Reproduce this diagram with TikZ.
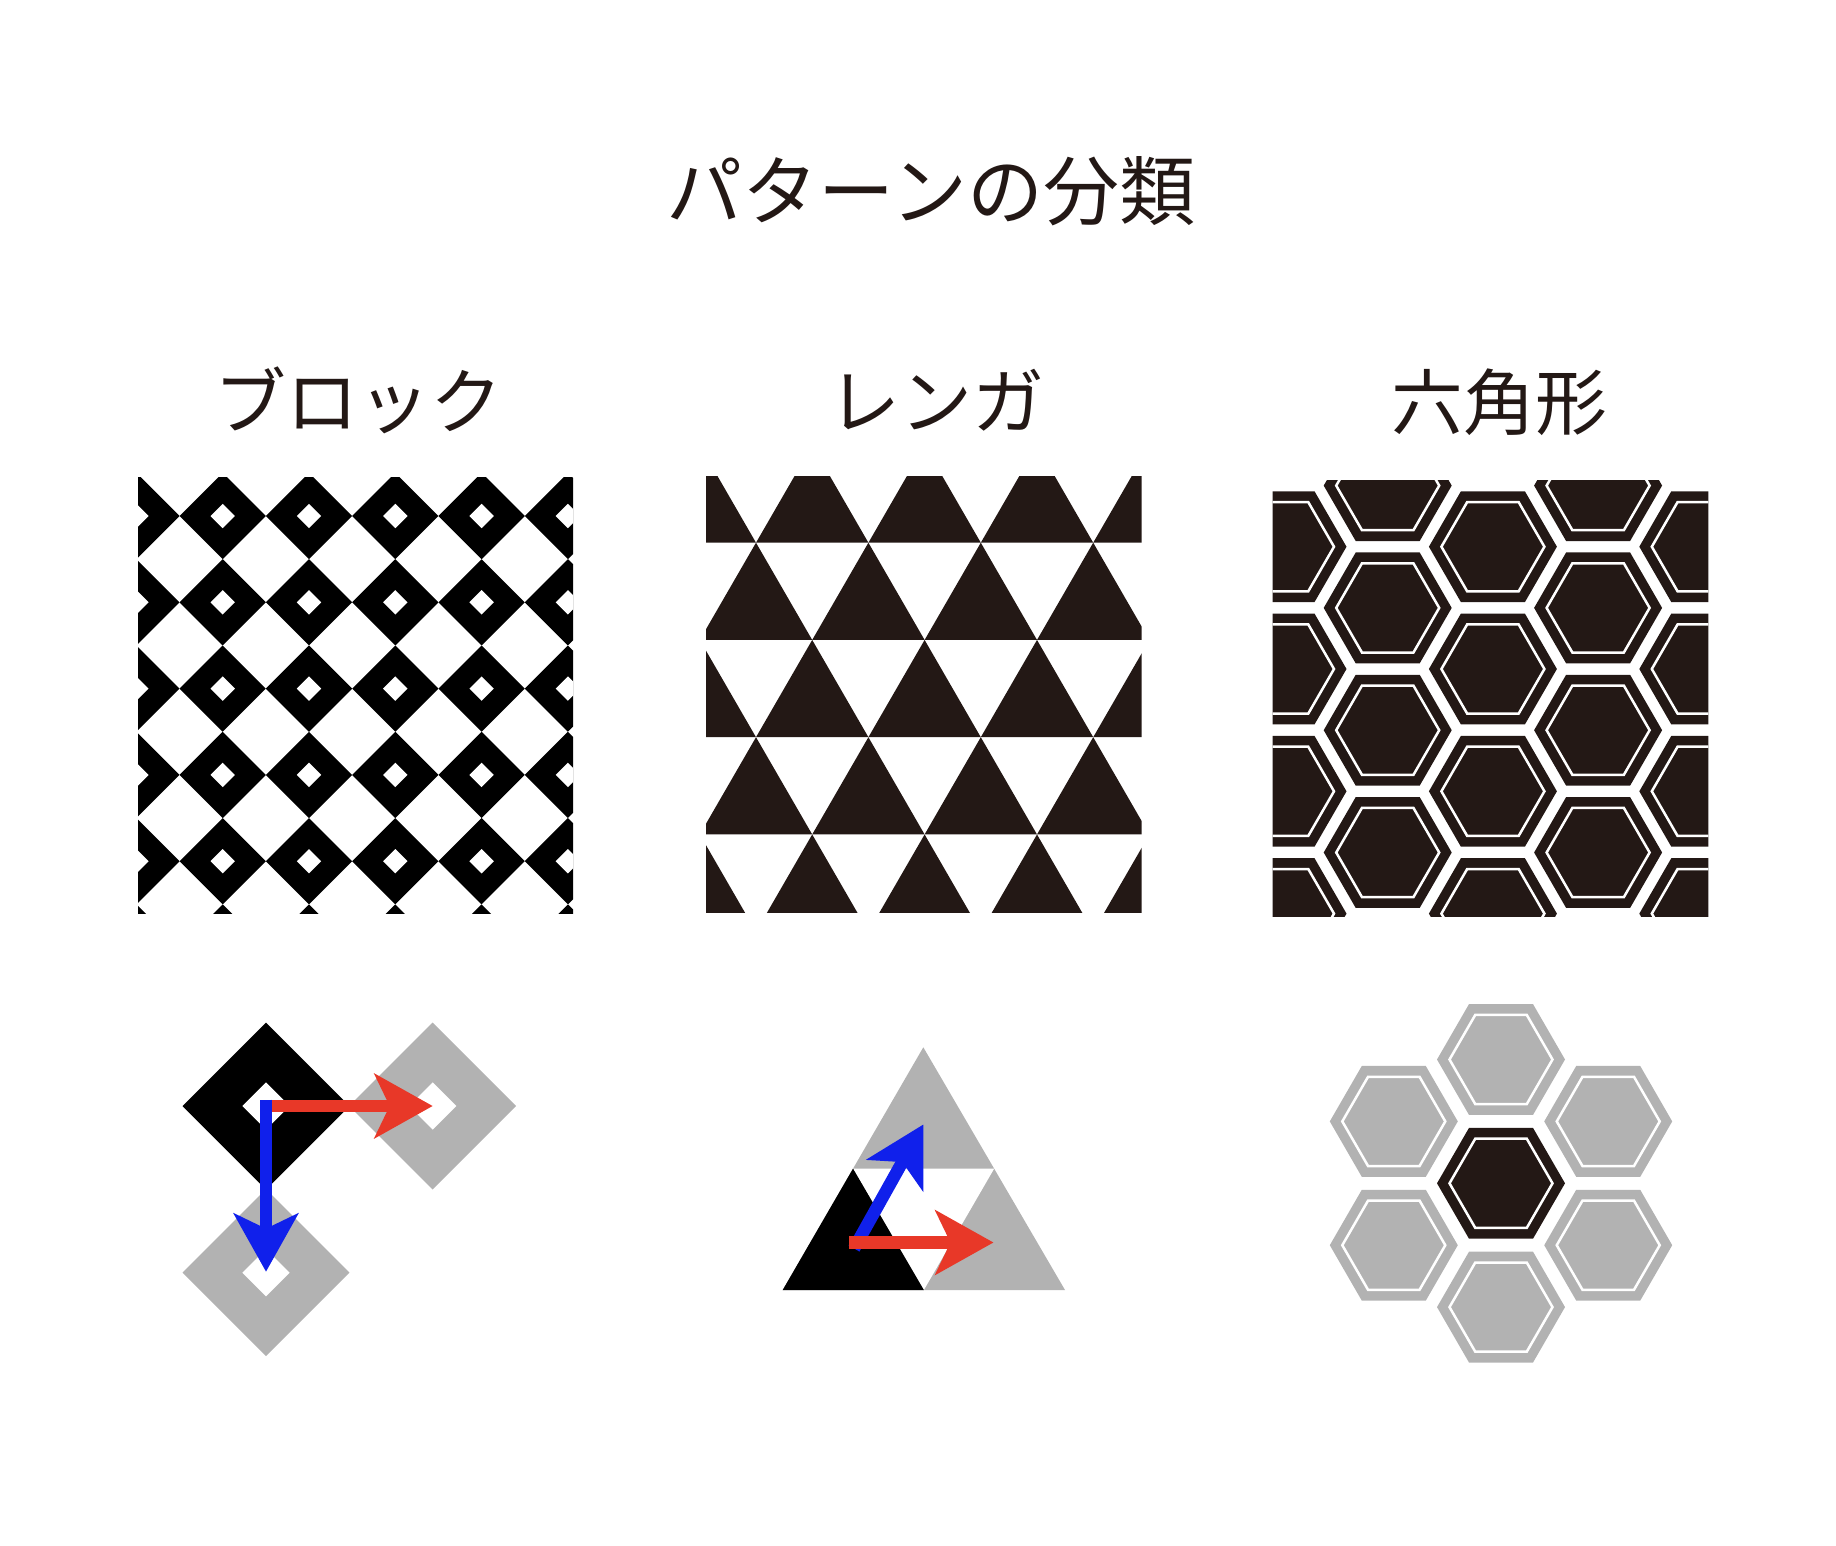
\documentclass[tikz,border=0pt]{standalone}
\usepackage{fontspec}
\newfontfamily\jpfont{Noto Sans CJK JP}
\usetikzlibrary{arrows.meta,calc}
\definecolor{inkblack}{RGB}{35,24,21}
\colorlet{tilegray}{black!30}
\definecolor{vecred}{RGB}{232,56,40}
\definecolor{vecblue}{RGB}{16,32,235}

\begin{document}
\begin{tikzpicture}[x=1pt,y=-1pt]
\useasboundingbox (0,0) rectangle (1836,1546);
\tikzset{heading/.style={font=\jpfont\fontsize{72}{80}\selectfont, text=inkblack, inner sep=0},
  vec/.style={line width=12.5pt, -{Stealth[length=58pt,width=64pt,inset=15pt]}},
  block/.pic={\fill[#1] (-43.15,0) -- (0,-43.15) -- (43.15,0) -- (0,43.15) -- cycle;
    \fill[white] (-12.2,0) -- (0,-12.2) -- (12.2,0) -- (0,12.2) -- cycle;},
  hexcell/.pic={\fill[#1] (0:64) -- (60:64) -- (120:64) -- (180:64) -- (240:64) -- (300:64) -- cycle;
    \draw[white,line width=2.5pt] (0:51.5) -- (60:51.5) -- (120:51.5) -- (180:51.5) -- (240:51.5) -- (300:51.5) -- cycle;}}

\node[heading,font=\jpfont\fontsize{76}{84}\selectfont] (title) at (931,191) {パターンの分類};
\node[heading] (blocklab) at (358,400) {ブロック};
\node[heading] (bricklab) at (936,400) {レンガ};
\node[heading] (hexlab) at (1499,402) {六角形};

\begin{scope}
\clip (138,477) rectangle (573,913);
\foreach \i in {0,...,5} \foreach \j in {0,...,6}
  \pic at ({136.4+86.3*\i},{429.7+86.3*\j}) {block=black};
\end{scope}

\begin{scope}
\clip (706,476.7) rectangle (1141.7,912.3);
\foreach \r in {0,...,5} \foreach \i in {-1,...,4}
  \fill[inkblack] ({699.8+56.2*mod(\r,2)+112.4*\i},{445.45+97.25*\r}) -- ++(56.2,97.25) -- ++(-112.4,0) -- cycle;
\end{scope}

\begin{scope}
\clip (1272.7,480) rectangle (1708.3,916);
\foreach \x in {1282.5,1492.9,1703.3} \foreach \y in {424.4,546.7,669,791.3,913.6}
  \pic at (\x,\y) {hexcell=inkblack};
\foreach \x in {1387.7,1598.1} \foreach \y in {485.6,607.9,730.2,852.5}
  \pic at (\x,\y) {hexcell=inkblack};
\end{scope}

\pic[scale=1.935] at (432.7,1106) {block=tilegray};
\pic[scale=1.935] at (266,1272.7) {block=tilegray};
\pic[scale=1.935] at (266,1106) {block=black};
\coordinate (bo) at (266,1106);
\coordinate (bs) at (266,1099.5);
\coordinate (bx) at (432.7,1106);
\coordinate (by) at (266,1271.7);
\draw[vec,vecred] (bo) -- (bx);
\draw[vec,vecblue] (bs) -- (by);

\fill[tilegray] (923.3,1047.3) -- (782.7,1290) -- (1065,1290) -- cycle;
\fill[white] (853,1168.65) -- (994.15,1168.65) -- (923.85,1290) -- cycle;
\fill[black] (782.7,1290) -- (923.85,1290) -- (853,1168.65) -- cycle;
\coordinate (to) at (854,1248.5);
\coordinate (ty) at (923.3,1124.5);
\coordinate (ts) at (849,1242.5);
\coordinate (tx) at (993.5,1242.5);
\draw[vec,vecblue] (to) -- (ty);
\draw[vec,vecred] (ts) -- (tx);

\coordinate (hc) at (1501,1183.3);
\foreach \a in {30,90,...,330}
  \pic at ($(hc)+(\a:123.8)$) {hexcell=tilegray};
\pic at (hc) {hexcell=inkblack};
\end{tikzpicture}
\end{document}
